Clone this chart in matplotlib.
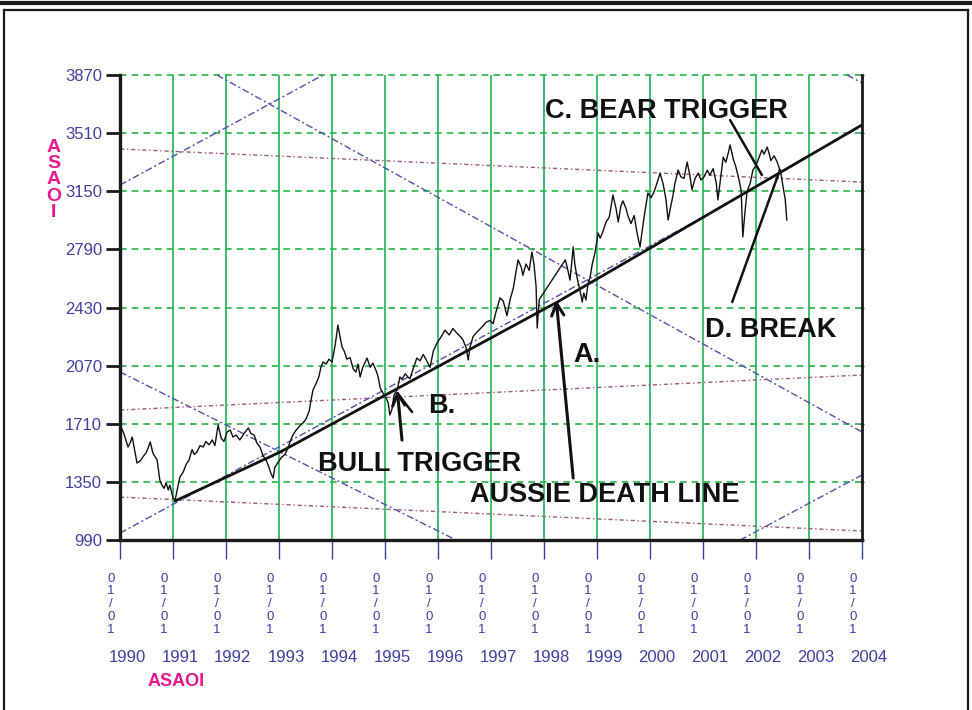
import matplotlib
matplotlib.use("Agg")
import matplotlib.pyplot as plt
from matplotlib.lines import Line2D

# ASAOI index (decimal year, index level)
years = [1990.00, 1990.06, 1990.11, 1990.15, 1990.19, 1990.23, 1990.28, 1990.32, 1990.38, 1990.43,
         1990.49, 1990.53, 1990.57, 1990.62, 1990.70, 1990.75, 1990.79, 1990.83, 1990.87, 1990.91,
         1990.94, 1991.00, 1991.04, 1991.09, 1991.13, 1991.19, 1991.25, 1991.30, 1991.36, 1991.40,
         1991.45, 1991.51, 1991.57, 1991.62, 1991.68, 1991.74, 1991.79, 1991.85, 1991.91, 1991.96,
         1992.02, 1992.08, 1992.13, 1992.19, 1992.26, 1992.34, 1992.42, 1992.47, 1992.53, 1992.58,
         1992.64, 1992.70, 1992.75, 1992.81, 1992.85, 1992.89, 1992.92, 1992.98, 1993.04, 1993.11,
         1993.17, 1993.21, 1993.26, 1993.32, 1993.40, 1993.45, 1993.51, 1993.57, 1993.60, 1993.64,
         1993.70, 1993.75, 1993.79, 1993.83, 1993.89, 1993.94, 1994.00, 1994.06, 1994.11, 1994.15,
         1994.19, 1994.23, 1994.28, 1994.34, 1994.40, 1994.45, 1994.49, 1994.53, 1994.58, 1994.66,
         1994.72, 1994.77, 1994.83, 1994.87, 1994.91, 1994.96, 1995.02, 1995.06, 1995.09, 1995.13,
         1995.17, 1995.23, 1995.28, 1995.32, 1995.38, 1995.43, 1995.47, 1995.53, 1995.60, 1995.66,
         1995.72, 1995.77, 1995.85, 1995.91, 1995.98, 1996.06, 1996.13, 1996.21, 1996.28, 1996.36,
         1996.42, 1996.47, 1996.53, 1996.57, 1996.60, 1996.66, 1996.74, 1996.83, 1996.91, 1996.98,
         1997.04, 1997.09, 1997.17, 1997.23, 1997.30, 1997.36, 1997.42, 1997.47, 1997.51, 1997.57,
         1997.60, 1997.66, 1997.72, 1997.77, 1997.81, 1997.85, 1997.87, 1997.91, 1998.40, 1998.43,
         1998.49, 1998.55, 1998.58, 1998.62, 1998.66, 1998.70, 1998.72, 1998.75, 1998.79, 1998.83,
         1998.87, 1998.91, 1998.96, 1999.02, 1999.06, 1999.11, 1999.17, 1999.23, 1999.26, 1999.30,
         1999.36, 1999.40, 1999.45, 1999.49, 1999.55, 1999.58, 1999.64, 1999.70, 1999.75, 1999.81,
         1999.87, 1999.92, 1999.96, 2000.02, 2000.08, 2000.13, 2000.19, 2000.25, 2000.30, 2000.34,
         2000.38, 2000.43, 2000.47, 2000.53, 2000.58, 2000.64, 2000.70, 2000.75, 2000.79, 2000.85,
         2000.91, 2000.96, 2001.02, 2001.08, 2001.13, 2001.19, 2001.25, 2001.28, 2001.32, 2001.38,
         2001.43, 2001.47, 2001.51, 2001.57, 2001.62, 2001.68, 2001.72, 2001.75, 2001.79, 2001.83,
         2001.89, 2001.94, 2002.00, 2002.06, 2002.11, 2002.15, 2002.21, 2002.25, 2002.28, 2002.34,
         2002.40, 2002.43, 2002.47, 2002.51, 2002.55, 2002.58]
index = [1702, 1660, 1610, 1566, 1591, 1628, 1540, 1467, 1480, 1504,
         1530, 1560, 1597, 1529, 1485, 1362, 1330, 1310, 1345, 1300,
         1330, 1250, 1238, 1320, 1380, 1410, 1460, 1485, 1550, 1520,
         1535, 1575, 1566, 1600, 1580, 1610, 1575, 1702, 1620, 1600,
         1660, 1671, 1628, 1640, 1610, 1650, 1684, 1650, 1640, 1591,
         1566, 1510, 1490, 1440, 1400, 1374, 1440, 1470, 1500, 1520,
         1560, 1600, 1640, 1670, 1700, 1715, 1740, 1790, 1850, 1919,
         1960, 2000, 2060, 2093, 2080, 2110, 2093, 2200, 2322, 2250,
         2185, 2160, 2110, 2120, 2050, 2030, 2080, 2000, 2060, 2117,
         2060, 2086, 2040, 2000, 1930, 1900, 1870, 1839, 1764, 1800,
         1890, 1920, 2000, 1985, 2020, 2000, 1990, 2050, 2117, 2100,
         2140, 2110, 2060, 2160, 2210, 2250, 2290, 2260, 2300, 2270,
         2250, 2230, 2180, 2105, 2180, 2250, 2280, 2310, 2340, 2350,
         2330, 2400, 2490, 2470, 2380, 2480, 2550, 2650, 2725, 2680,
         2630, 2700, 2660, 2774, 2700, 2560, 2303, 2480, 2725, 2690,
         2600, 2805, 2700, 2620, 2560, 2500, 2465, 2520, 2477, 2580,
         2620, 2700, 2768, 2892, 2860, 2900, 2960, 2990, 3050, 3127,
         3040, 2960, 3060, 3090, 3040, 3000, 2950, 3000, 2900, 2805,
         2950, 3060, 3139, 3110, 3150, 3200, 3263, 3190, 3100, 2972,
         3040, 3120, 3200, 3282, 3240, 3230, 3331, 3250, 3160, 3230,
         3263, 3220, 3240, 3280, 3250, 3290, 3200, 3096, 3200, 3362,
         3330, 3380, 3437, 3350, 3300, 3220, 3150, 2867, 3020, 3150,
         3200, 3282, 3310, 3362, 3406, 3380, 3424, 3380, 3340, 3370,
         3330, 3300, 3260, 3177, 3100, 2972]

# "Aussie death line" trend
trend_years = [1991.04, 1993.02, 1998.25, 2004.00]
trend_vals = [1232, 1535, 2464, 3561]

# fan lines (blue) and drift lines (maroon), endpoints
blue_lines = [((1990.00, 3189), (1993.83, 3870)),
              ((1991.83, 3870), (2004.00, 1659)),
              ((1990.00, 2031), (1996.34, 990)),
              ((1990.00, 1033), (2001.00, 2990)),
              ((2001.70, 990), (2004.00, 1393)),
              ((2003.72, 3870), (2004.00, 3821))]
maroon_lines = [((1990.00, 3412), (2004.00, 3207)),
                ((1990.00, 1795), (2004.00, 2012)),
                ((1990.00, 1256), (2004.00, 1046))]

y_ticks = [990, 1350, 1710, 2070, 2430, 2790, 3150, 3510, 3870]
x_years = list(range(1990, 2005))

BLUE = "#3f3fa3"
PINK = "#e8188a"
GREEN_V = "#3dbf6e"
GREEN_H = "#22b845"
narrow = ["Liberation Sans Narrow", "Liberation Sans", "DejaVu Sans"]
bold = ["Liberation Sans", "DejaVu Sans"]

fig = plt.figure(figsize=(9.72, 7.10), dpi=100)
ax = fig.add_axes([0.1235, 0.2394, 0.7634, 0.6549])

ax.set_xlim(1990, 2004)
ax.set_ylim(990, 3870)

# grid
for yr in x_years[1:-1]:
    ax.axvline(yr, color=GREEN_V, lw=1.4, zorder=0)
for v in y_ticks[1:]:
    ax.axhline(v, color=GREEN_H, lw=1.2, ls=(0, (4, 3)), zorder=0, clip_on=False)

for (x0, y0), (x1, y1) in blue_lines:
    ax.plot([x0, x1], [y0, y1], color="#5050a8", lw=1.0, ls=(0, (5, 2, 1.5, 2)), zorder=1)
for (x0, y0), (x1, y1) in maroon_lines:
    ax.plot([x0, x1], [y0, y1], color="#a05a7c", lw=1.0, ls=(0, (3, 2, 1, 2)), zorder=1)

ax.plot(years, index, color="#111111", lw=1.0, zorder=3)
ax.plot(trend_years, trend_vals, color="#111111", lw=2.0, zorder=4, solid_capstyle="round")

# axes styling
for side in ("left", "bottom"):
    ax.spines[side].set_linewidth(2.4)
    ax.spines[side].set_color("#1a1a1a")
ax.spines["right"].set_linewidth(2.0)
ax.spines["right"].set_color("#1a1a1a")
ax.spines["top"].set_visible(False)

ax.set_yticks(y_ticks)
ax.set_yticklabels([str(v) for v in y_ticks], color=BLUE, fontsize=12, family=narrow)
ax.tick_params(axis="y", length=10, width=2, color="#1a1a1a", pad=3)
ax.set_xticks(x_years)
ax.set_xticklabels([])
ax.tick_params(axis="x", length=14, width=1, color=BLUE, direction="out")

sec = ax.secondary_yaxis("right")
sec.set_yticks(y_ticks)
sec.set_yticklabels([])
sec.tick_params(length=3, width=1, color=BLUE, direction="inout")
sec.spines["right"].set_visible(False)

xt = ax.get_xaxis_transform()
for yr in x_years:
    ax.text(yr - 0.17, -0.138, "0\n1\n/\n0\n1", transform=xt, ha="center", va="center",
            color=BLUE, fontsize=9.5, family=narrow, linespacing=1.08)
    ax.text(yr + 0.13, -0.2516, str(yr), transform=xt, ha="center", va="center",
            color=BLUE, fontsize=12, family=narrow)

# annotations
txt = dict(color="#111111", fontsize=19.5, fontweight="bold", family=bold, va="baseline")
ax.text(1998.02, 3604, "C. BEAR TRIGGER", **txt)
ax.text(2001.04, 2247, "D. BREAK", **txt)
ax.text(1998.55, 2093, "A.", **txt)
ax.text(1995.81, 1777, "B.", **txt)
ax.text(1993.74, 1417, "BULL TRIGGER", **txt)
ax.text(1996.60, 1225, "AUSSIE DEATH LINE", **txt)

line_kw = dict(arrowstyle="-", lw=1.8, color="#111111", shrinkA=0, shrinkB=0)
arrow_kw = dict(arrowstyle="->", lw=2.2, color="#111111", shrinkA=0, shrinkB=0, mutation_scale=22)
ax.annotate("", xy=(2002.11, 3251), xytext=(2001.51, 3591), arrowprops=line_kw, zorder=5)
ax.annotate("", xy=(2002.45, 3282), xytext=(2001.55, 2464), arrowprops=line_kw, zorder=5)
ax.annotate("", xy=(1998.23, 2477), xytext=(1998.55, 1374), arrowprops=arrow_kw, zorder=5)
ax.annotate("", xy=(1995.23, 1919), xytext=(1995.32, 1609), arrowprops=arrow_kw, zorder=5)
ax.annotate("", xy=(1995.26, 1888), xytext=(1995.51, 1783), arrowprops=line_kw, zorder=5)

# axis titles
fig.text(53.5 / 972, 1 - 180 / 710, "A\nS\nA\nO\nI", ha="center", va="center", color=PINK,
         fontsize=14, fontweight="bold", family=bold, linespacing=0.95)
fig.text(148 / 972, 1 - 682 / 710, "ASAOI", ha="left", va="center", color=PINK,
         fontsize=13, fontweight="bold", family=bold)

# page frame
W, H = 972.0, 710.0
fig.add_artist(Line2D([0, 1], [1 - 3 / H, 1 - 3 / H], color="#1a1a1a", lw=3.0))
fig.add_artist(Line2D([4 / W, 968 / W], [1 - 9.5 / H, 1 - 9.5 / H], color="#1a1a1a", lw=1.6))
fig.add_artist(Line2D([4 / W, 4 / W], [0, 1 - 9.5 / H], color="#1a1a1a", lw=1.6))
fig.add_artist(Line2D([968 / W, 968 / W], [0, 1 - 9.5 / H], color="#1a1a1a", lw=1.6))

fig.savefig("out.png", dpi=100)
